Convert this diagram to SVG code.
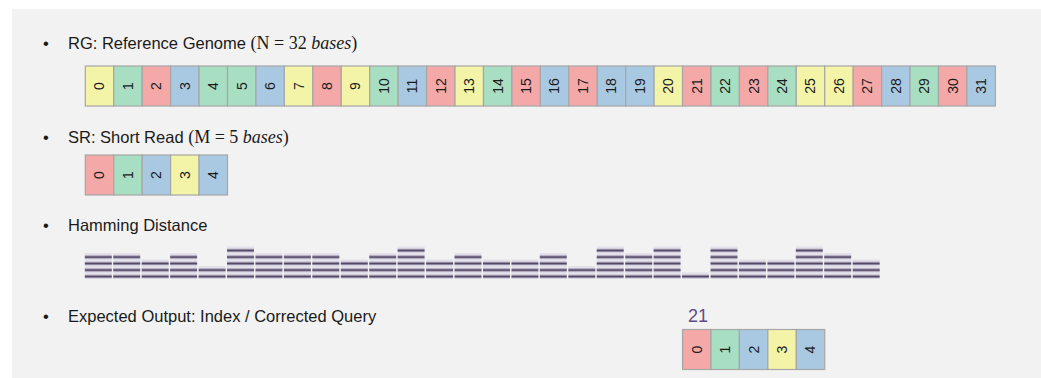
<svg xmlns="http://www.w3.org/2000/svg" width="1041" height="378" viewBox="0 0 1041 378">
<style>
.bg{fill:#f2f2f2}
.c rect{stroke:#a6a6a6;stroke-width:1.2}
.Y{fill:#f4f4a8}.G{fill:#a8dec2}.R{fill:#f4a8a8}.B{fill:#a9c9e3}
.d{font-family:"Liberation Sans",Arial,sans-serif;font-size:14px;fill:#1a1a1a;text-anchor:middle}
.t{font-family:"Liberation Sans",Arial,sans-serif;font-size:16.5px;fill:#1a1a1a}
.m{font-family:"Liberation Serif","Times New Roman",serif;font-size:18px}
.i{font-style:italic}
.bar{fill:url(#hd)}
</style>
<defs>
<pattern id="hd" patternUnits="userSpaceOnUse" x="0" y="279" width="10" height="6.5">
<rect x="0" y="0" width="10" height="6.5" fill="#ddd8e5"/>
<rect x="0" y="0" width="10" height="2.2" fill="#e6e2ec"/>
<rect x="0" y="2.4" width="10" height="0.8" fill="#a39ab2"/>
<rect x="0" y="3.2" width="10" height="1.7" fill="#4a3f5d"/>
<rect x="0" y="4.9" width="10" height="0.7" fill="#8e85a0"/>
</pattern>
</defs>
<rect class="bg" x="12" y="9" width="1029" height="369"/>

<g id="labels">
<text class="t" x="43" y="49">•</text>
<text class="t" x="68" y="49">RG: Reference Genome <tspan class="m">(N = 32 </tspan><tspan class="m i">bases</tspan><tspan class="m">)</tspan></text>
<text class="t" x="43" y="143">•</text>
<text class="t" x="68" y="143">SR: Short Read <tspan class="m">(M = 5 </tspan><tspan class="m i">bases</tspan><tspan class="m">)</tspan></text>
<text class="t" x="43" y="231">•</text>
<text class="t" x="68" y="231">Hamming Distance</text>
<text class="t" x="43" y="322">•</text>
<text class="t" x="68" y="322">Expected Output: Index / Corrected Query</text>
</g>

<g id="rg" class="c">
<g transform="translate(85.30 66)"><rect class="Y" width="28.44" height="40"/><text class="d" transform="translate(14.22 20) rotate(-90)" dy="0.35em">0</text></g>
<g transform="translate(113.74 66)"><rect class="G" width="28.44" height="40"/><text class="d" transform="translate(14.22 20) rotate(-90)" dy="0.35em">1</text></g>
<g transform="translate(142.18 66)"><rect class="R" width="28.44" height="40"/><text class="d" transform="translate(14.22 20) rotate(-90)" dy="0.35em">2</text></g>
<g transform="translate(170.62 66)"><rect class="B" width="28.44" height="40"/><text class="d" transform="translate(14.22 20) rotate(-90)" dy="0.35em">3</text></g>
<g transform="translate(199.06 66)"><rect class="G" width="28.44" height="40"/><text class="d" transform="translate(14.22 20) rotate(-90)" dy="0.35em">4</text></g>
<g transform="translate(227.50 66)"><rect class="G" width="28.44" height="40"/><text class="d" transform="translate(14.22 20) rotate(-90)" dy="0.35em">5</text></g>
<g transform="translate(255.94 66)"><rect class="B" width="28.44" height="40"/><text class="d" transform="translate(14.22 20) rotate(-90)" dy="0.35em">6</text></g>
<g transform="translate(284.38 66)"><rect class="Y" width="28.44" height="40"/><text class="d" transform="translate(14.22 20) rotate(-90)" dy="0.35em">7</text></g>
<g transform="translate(312.82 66)"><rect class="R" width="28.44" height="40"/><text class="d" transform="translate(14.22 20) rotate(-90)" dy="0.35em">8</text></g>
<g transform="translate(341.26 66)"><rect class="Y" width="28.44" height="40"/><text class="d" transform="translate(14.22 20) rotate(-90)" dy="0.35em">9</text></g>
<g transform="translate(369.70 66)"><rect class="G" width="28.44" height="40"/><text class="d" transform="translate(14.22 20) rotate(-90)" dy="0.35em">10</text></g>
<g transform="translate(398.14 66)"><rect class="B" width="28.44" height="40"/><text class="d" transform="translate(14.22 20) rotate(-90)" dy="0.35em">11</text></g>
<g transform="translate(426.58 66)"><rect class="R" width="28.44" height="40"/><text class="d" transform="translate(14.22 20) rotate(-90)" dy="0.35em">12</text></g>
<g transform="translate(455.02 66)"><rect class="Y" width="28.44" height="40"/><text class="d" transform="translate(14.22 20) rotate(-90)" dy="0.35em">13</text></g>
<g transform="translate(483.46 66)"><rect class="G" width="28.44" height="40"/><text class="d" transform="translate(14.22 20) rotate(-90)" dy="0.35em">14</text></g>
<g transform="translate(511.90 66)"><rect class="R" width="28.44" height="40"/><text class="d" transform="translate(14.22 20) rotate(-90)" dy="0.35em">15</text></g>
<g transform="translate(540.34 66)"><rect class="B" width="28.44" height="40"/><text class="d" transform="translate(14.22 20) rotate(-90)" dy="0.35em">16</text></g>
<g transform="translate(568.78 66)"><rect class="R" width="28.44" height="40"/><text class="d" transform="translate(14.22 20) rotate(-90)" dy="0.35em">17</text></g>
<g transform="translate(597.22 66)"><rect class="B" width="28.44" height="40"/><text class="d" transform="translate(14.22 20) rotate(-90)" dy="0.35em">18</text></g>
<g transform="translate(625.66 66)"><rect class="B" width="28.44" height="40"/><text class="d" transform="translate(14.22 20) rotate(-90)" dy="0.35em">19</text></g>
<g transform="translate(654.10 66)"><rect class="Y" width="28.44" height="40"/><text class="d" transform="translate(14.22 20) rotate(-90)" dy="0.35em">20</text></g>
<g transform="translate(682.54 66)"><rect class="R" width="28.44" height="40"/><text class="d" transform="translate(14.22 20) rotate(-90)" dy="0.35em">21</text></g>
<g transform="translate(710.98 66)"><rect class="G" width="28.44" height="40"/><text class="d" transform="translate(14.22 20) rotate(-90)" dy="0.35em">22</text></g>
<g transform="translate(739.42 66)"><rect class="R" width="28.44" height="40"/><text class="d" transform="translate(14.22 20) rotate(-90)" dy="0.35em">23</text></g>
<g transform="translate(767.86 66)"><rect class="G" width="28.44" height="40"/><text class="d" transform="translate(14.22 20) rotate(-90)" dy="0.35em">24</text></g>
<g transform="translate(796.30 66)"><rect class="Y" width="28.44" height="40"/><text class="d" transform="translate(14.22 20) rotate(-90)" dy="0.35em">25</text></g>
<g transform="translate(824.74 66)"><rect class="Y" width="28.44" height="40"/><text class="d" transform="translate(14.22 20) rotate(-90)" dy="0.35em">26</text></g>
<g transform="translate(853.18 66)"><rect class="R" width="28.44" height="40"/><text class="d" transform="translate(14.22 20) rotate(-90)" dy="0.35em">27</text></g>
<g transform="translate(881.62 66)"><rect class="B" width="28.44" height="40"/><text class="d" transform="translate(14.22 20) rotate(-90)" dy="0.35em">28</text></g>
<g transform="translate(910.06 66)"><rect class="G" width="28.44" height="40"/><text class="d" transform="translate(14.22 20) rotate(-90)" dy="0.35em">29</text></g>
<g transform="translate(938.50 66)"><rect class="R" width="28.44" height="40"/><text class="d" transform="translate(14.22 20) rotate(-90)" dy="0.35em">30</text></g>
<g transform="translate(966.94 66)"><rect class="B" width="28.44" height="40"/><text class="d" transform="translate(14.22 20) rotate(-90)" dy="0.35em">31</text></g>
</g>

<g id="sr" class="c">
<g transform="translate(85.30 155)"><rect class="R" width="28.44" height="40"/><text class="d" transform="translate(14.22 20) rotate(-90)" dy="0.35em">0</text></g>
<g transform="translate(113.74 155)"><rect class="G" width="28.44" height="40"/><text class="d" transform="translate(14.22 20) rotate(-90)" dy="0.35em">1</text></g>
<g transform="translate(142.18 155)"><rect class="B" width="28.44" height="40"/><text class="d" transform="translate(14.22 20) rotate(-90)" dy="0.35em">2</text></g>
<g transform="translate(170.62 155)"><rect class="Y" width="28.44" height="40"/><text class="d" transform="translate(14.22 20) rotate(-90)" dy="0.35em">3</text></g>
<g transform="translate(199.06 155)"><rect class="B" width="28.44" height="40"/><text class="d" transform="translate(14.22 20) rotate(-90)" dy="0.35em">4</text></g>
</g>

<g id="hamming">
<rect class="bar" x="84.8" y="253" width="27" height="26"/>
<rect class="bar" x="113.2" y="253" width="27" height="26"/>
<rect class="bar" x="141.7" y="259.5" width="27" height="19.5"/>
<rect class="bar" x="170.1" y="253" width="27" height="26"/>
<rect class="bar" x="198.6" y="266" width="27" height="13"/>
<rect class="bar" x="227.0" y="246.5" width="27" height="32.5"/>
<rect class="bar" x="255.4" y="253" width="27" height="26"/>
<rect class="bar" x="283.9" y="253" width="27" height="26"/>
<rect class="bar" x="312.3" y="253" width="27" height="26"/>
<rect class="bar" x="340.8" y="259.5" width="27" height="19.5"/>
<rect class="bar" x="369.2" y="253" width="27" height="26"/>
<rect class="bar" x="397.6" y="246.5" width="27" height="32.5"/>
<rect class="bar" x="426.1" y="259.5" width="27" height="19.5"/>
<rect class="bar" x="454.5" y="253" width="27" height="26"/>
<rect class="bar" x="483.0" y="259.5" width="27" height="19.5"/>
<rect class="bar" x="511.4" y="259.5" width="27" height="19.5"/>
<rect class="bar" x="539.8" y="253" width="27" height="26"/>
<rect class="bar" x="568.3" y="266" width="27" height="13"/>
<rect class="bar" x="596.7" y="246.5" width="27" height="32.5"/>
<rect class="bar" x="625.2" y="253" width="27" height="26"/>
<rect class="bar" x="653.6" y="246.5" width="27" height="32.5"/>
<rect class="bar" x="682.0" y="272.5" width="27" height="6.5"/>
<rect class="bar" x="710.5" y="246.5" width="27" height="32.5"/>
<rect class="bar" x="738.9" y="259.5" width="27" height="19.5"/>
<rect class="bar" x="767.4" y="259.5" width="27" height="19.5"/>
<rect class="bar" x="795.8" y="246.5" width="27" height="32.5"/>
<rect class="bar" x="824.2" y="253" width="27" height="26"/>
<rect class="bar" x="852.7" y="259.5" width="27" height="19.5"/>
</g>

<g id="output">
<text x="688" y="322" font-family="Liberation Sans,Arial,sans-serif" font-size="18" fill="#5e4b86">21</text>
<g class="c">
<g transform="translate(682.54 329.5)"><rect class="R" width="28.44" height="40"/><text class="d" transform="translate(14.22 20) rotate(-90)" dy="0.35em">0</text></g>
<g transform="translate(710.98 329.5)"><rect class="G" width="28.44" height="40"/><text class="d" transform="translate(14.22 20) rotate(-90)" dy="0.35em">1</text></g>
<g transform="translate(739.42 329.5)"><rect class="B" width="28.44" height="40"/><text class="d" transform="translate(14.22 20) rotate(-90)" dy="0.35em">2</text></g>
<g transform="translate(767.86 329.5)"><rect class="Y" width="28.44" height="40"/><text class="d" transform="translate(14.22 20) rotate(-90)" dy="0.35em">3</text></g>
<g transform="translate(796.30 329.5)"><rect class="B" width="28.44" height="40"/><text class="d" transform="translate(14.22 20) rotate(-90)" dy="0.35em">4</text></g>
</g>
</g>
</svg>
